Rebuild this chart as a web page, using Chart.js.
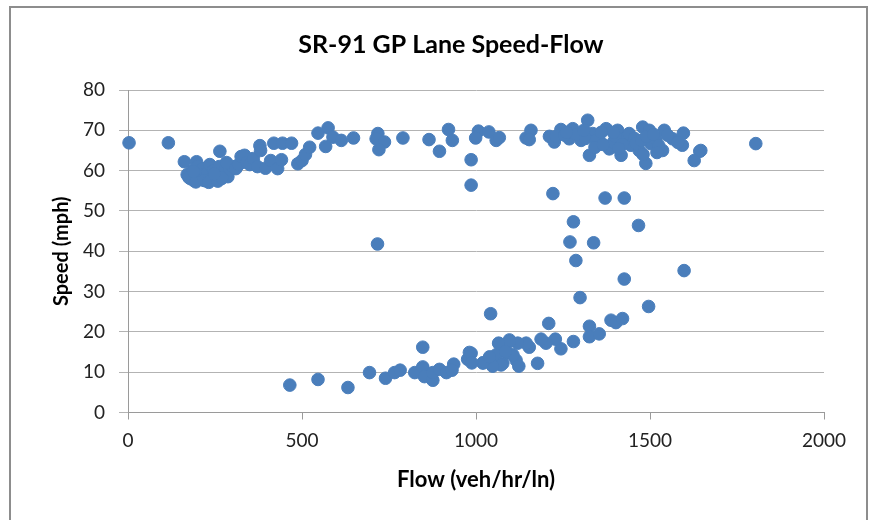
<!DOCTYPE html>
<html>
<head>
<meta charset="utf-8">
<script src="https://cdn.jsdelivr.net/npm/chart.js@4"></script>
<style>
  html, body { margin: 0; padding: 0; background: #fff; }
  #wrap { position: relative; width: 871px; height: 520px; overflow: hidden; }
  #chart { position: absolute; left: 0; top: 0; }
  #frame { position: absolute; left: 9px; top: 6px; width: 855px; height: 540px;
           border: 2px solid #8d8d8d; pointer-events: none; }
</style>
</head>
<body>
<div id="wrap">
  <canvas id="chart" width="871" height="520"></canvas>
  <div id="frame"></div>
</div>
<script>
// flow (veh/hr/ln) and speed (mph)
const flowValues = [
  3, 116, 162, 197, 170, 180, 185, 190, 200, 205, 210, 215, 222, 228, 235, 240, 245, 250,
  256, 262, 268, 275, 280, 287, 292, 300, 264, 283, 310, 318, 325, 335, 342, 350, 360, 372,
  379, 381, 395, 410, 419, 430, 441, 444, 470, 488, 500, 510, 522, 546, 568, 575, 589, 613,
  648, 718, 713, 737, 721, 790, 865, 895, 921, 932, 986, 986, 1007, 999, 1037, 1058, 1067,
  1144, 1158, 1153, 1211, 1225, 1244, 1268, 1278, 1302, 1321, 1326, 1335, 1354, 1374, 1383,
  1407, 1417, 1431, 1445, 1469, 1479, 1498, 1488, 1502, 1517, 1541, 1536, 1565, 1596, 1593,
  1643, 1627, 1804, 1230, 1255, 1290, 1315, 1345, 1360, 1395, 1400, 1420, 1440, 1455, 1460,
  1475, 1490, 1510, 1525, 1550, 1580, 1342, 1365, 1410, 1520, 1480, 1395, 1310, 1260, 1646,
  1221, 1371, 1426, 1280, 1467, 1270, 1338, 1287, 1598, 1426, 1299, 717, 1496, 1042, 1209,
  1326, 1388, 1402, 1421,
  465, 546, 632, 694, 740, 766, 782, 847, 824, 847, 852, 876, 876, 895, 915, 936, 931, 976,
  981, 1020, 1039, 1067, 1058, 1077, 1096, 1090, 1115, 1326, 1354, 1280, 1244, 1228, 1201,
  1187, 1177, 1153, 1144, 1120, 1123, 1096, 1065, 1106, 1072, 1048, 1020, 1039, 986, 988, 1085,
  175, 195, 218, 232, 258, 270, 188, 248
];
const speedValues = [
  66.9, 66.9, 62.2, 62.2, 59, 58, 60, 57.5, 61, 59, 58, 60.5, 57.5, 59.5, 61.5, 58, 60, 57.8,
  59, 61, 58, 59.5, 60.5, 58.5, 60, 61, 64.8, 62, 60.5, 61.5, 63.5, 63.8, 62, 61.5, 63, 61,
  66.2, 65, 60.6, 62.5, 66.8, 60.5, 62.7, 66.8, 66.8, 61.7, 62.5, 64, 65.8, 69.3, 66, 70.6, 68.3, 67.5,
  68.1, 69.2, 67.9, 67.1, 65.2, 68.1, 67.7, 64.8, 70.2, 67.5, 62.7, 56.4, 69.8, 68.1, 69.6, 67.5, 68.2,
  68.1, 70, 67.7, 68.5, 67.1, 70.2, 67.9, 70.4, 67.5, 72.5, 63.8, 69.2, 67.1, 70.4, 65.4,
  70, 63.8, 68.3, 66.3, 65, 70.8, 70, 61.8, 66.7, 67.9, 70, 65, 67.9, 69.3, 66.3,
  64.8, 62.5, 66.7, 68.5, 68.8, 69, 68, 67.5, 69.5, 67, 68.5, 66.5, 69.2, 68, 66.8,
  67.5, 68.5, 69, 66.2, 68.8, 67, 65.8, 66.5, 65.5, 64.5, 64, 69.5, 70, 69.5, 65,
  54.3, 53.2, 53.2, 47.3, 46.4, 42.3, 42.1, 37.7, 35.2, 33.1, 28.5, 41.8, 26.3, 24.5, 22.1,
  21.4, 22.9, 22.3, 23.3,
  6.8, 8.2, 6.2, 9.9, 8.5, 9.9, 10.5, 16.2, 9.9, 11.3, 8.9, 8, 9.9, 10.7, 9.9, 12, 10.5, 13.2,
  14.9, 12.3, 12.6, 17, 14.3, 12.2, 18, 14.8, 13, 18.8, 19.5, 17.6, 15.8, 18.2, 17.2,
  18.2, 12.2, 16.2, 17.2, 17.2, 11.5, 17.6, 17.2, 14.3, 11.8, 11.5, 12.3, 13.8, 14.7, 12.3, 15.1,
  58.3, 57.2, 57.6, 57.1, 57.4, 58.2, 59.8, 59.2
];
const xTicks = [0, 500, 1000, 1500, 2000];
const yTicks = [0, 10, 20, 30, 40, 50, 60, 70, 80];
const chartTitle = 'SR-91 GP Lane Speed-Flow';

const points = flowValues.map((f, i) => ({ x: f, y: speedValues[i] }));
const gridGray = '#b3b3b3';
const axisGray = '#9a9a9a';
const textColor = '#222';

// title drawn at its own spot (it sits left of the plot centre in the original)
const titlePlugin = {
  id: 'sideTitle',
  afterDraw(chart) {
    const ctx = chart.ctx;
    ctx.save();
    ctx.font = 'bold 25px Lato';
    ctx.fillStyle = '#000';
    ctx.textAlign = 'center';
    ctx.textBaseline = 'middle';
    ctx.fillText(chartTitle, 451, 45);
    ctx.restore();
  },
};

new Chart(document.getElementById('chart'), {
  type: 'scatter',
  data: {
    datasets: [{
      label: 'Speed-Flow',
      data: points,
      pointRadius: 6.3,
      pointHoverRadius: 6.3,
      backgroundColor: '#4a7ebb',
      borderColor: '#4a7ebb',
      borderWidth: 1,
      clip: false,
    }],
  },
  plugins: [titlePlugin],
  options: {
    responsive: false,
    animation: false,
    layout: { padding: { left: 0, right: 47, top: 90, bottom: 0 } },
    plugins: {
      legend: { display: false },
      tooltip: { enabled: false },
      title: { display: false },
    },
    scales: {
      x: {
        type: 'linear',
        min: xTicks[0],
        max: xTicks[xTicks.length - 1],
        afterBuildTicks: (scale) => { scale.ticks = xTicks.map(v => ({ value: v })); },
        afterFit: (scale) => { scale.height = 107.5; },
        border: { display: true, color: axisGray, width: 1 },
        grid: { drawOnChartArea: false, drawTicks: true, tickLength: 7, color: axisGray },
        ticks: { color: textColor, font: { family: 'Lato', size: 19 }, padding: 10,
                 callback: (v) => String(v) },
        title: {
          display: true,
          text: 'Flow (veh/hr/ln)',
          color: '#000',
          font: { family: 'Lato', size: 22, weight: 'bold' },
          padding: { top: 0, bottom: 27 },
        },
      },
      y: {
        type: 'linear',
        min: yTicks[0],
        max: yTicks[yTicks.length - 1],
        afterBuildTicks: (scale) => { scale.ticks = yTicks.map(v => ({ value: v })); },
        afterFit: (scale) => { scale.width = 128; },
        border: { display: true, color: axisGray, width: 1 },
        grid: { drawOnChartArea: true, drawTicks: true, tickLength: 9, color: gridGray },
        ticks: { color: textColor, font: { family: 'Lato', size: 19 }, padding: 14 },
        title: {
          display: true,
          text: 'Speed (mph)',
          color: '#000',
          font: { family: 'Lato', size: 20, weight: 'bold' },
          padding: { top: 50, bottom: 0 },
        },
      },
    },
  },
});
</script>
</body>
</html>
